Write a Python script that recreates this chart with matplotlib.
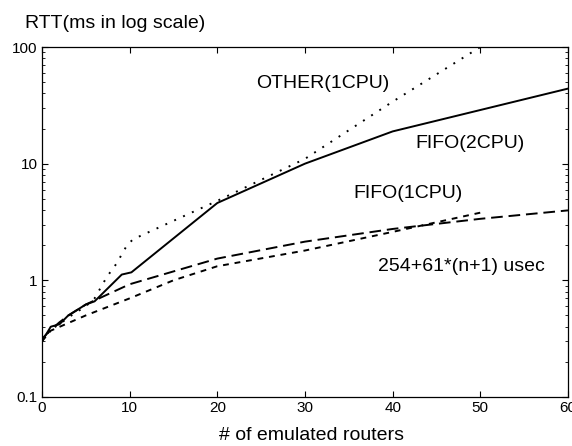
import matplotlib
matplotlib.use("Agg")
import matplotlib.pyplot as plt
from matplotlib.ticker import LogLocator, NullFormatter

plt.rcParams['font.family'] = ['Liberation Sans', 'DejaVu Sans']

# OTHER(1CPU) - dotted
other_x = [0, 1, 2, 3, 5, 6, 7.4, 8.5, 9.7, 10.4, 20, 30, 40, 50]
other_y = [0.30, 0.38, 0.42, 0.48, 0.60, 0.70, 1.07, 1.39, 2.0, 2.25, 4.8, 11, 34, 100]

# FIFO(2CPU) - solid
fifo2_x = [0, 1, 2, 3, 5, 6, 9.1, 10.2, 20, 30, 40, 60]
fifo2_y = [0.30, 0.40, 0.42, 0.50, 0.62, 0.66, 1.12, 1.17, 4.6, 10, 18.9, 44]

# FIFO(1CPU) - short dashes
fifo1_x = [0, 1, 5, 10, 15, 20, 30, 40, 50]
fifo1_y = [0.30, 0.37, 0.50, 0.70, 1.0, 1.32, 1.8, 2.6, 3.8]

# 254+61*(n+1) usec - long dashes
model_x = [0, 1, 2, 3, 5, 10, 20, 30, 40, 50, 60]
model_y = [0.315, 0.376, 0.437, 0.498, 0.62, 0.925, 1.535, 2.145, 2.755, 3.365, 3.975]

fig = plt.figure(figsize=(5.72, 4.46), dpi=100)
ax = fig.add_axes([0.0734, 0.11, 0.9196, 0.7846])

lw = 1.4
ax.plot(other_x, other_y, color='black', lw=lw, linestyle=(0, (1, 4)))
ax.plot(fifo2_x, fifo2_y, color='black', lw=lw, linestyle='-')
ax.plot(fifo1_x, fifo1_y, color='black', lw=lw, linestyle=(0, (3, 3)))
ax.plot(model_x, model_y, color='black', lw=lw, linestyle=(0, (6, 3)))

ax.set_yscale('log')
ax.set_xlim(0, 60)
ax.set_ylim(0.1, 100)
ax.set_xticks([0, 10, 20, 30, 40, 50, 60])
ax.set_yticks([0.1, 1, 10, 100])
ax.set_yticklabels(['0.1', '1', '10', '100'])
ax.yaxis.set_minor_locator(LogLocator(base=10, subs=range(2, 10)))
ax.yaxis.set_minor_formatter(NullFormatter())
ax.tick_params(which='both', direction='in', top=True, right=True, labelsize=11)
ax.tick_params(which='major', length=4, width=0.8, pad=3)
ax.tick_params(which='minor', length=2, width=0.6)
for s in ax.spines.values():
    s.set_linewidth(0.9)

ax.text(32.0, 48.8, 'OTHER(1CPU)', fontsize=14, ha='center', va='center')
ax.text(48.8, 14.9, 'FIFO(2CPU)', fontsize=14, ha='center', va='center')
ax.text(41.8, 5.56, 'FIFO(1CPU)', fontsize=14, ha='center', va='center')
ax.text(47.8, 1.32, '254+61*(n+1) usec', fontsize=14, ha='center', va='center')

fig.text(25/572, 1 - 23/446, 'RTT(ms in log scale)', fontsize=14, ha='left', va='center')
fig.text(311.5/572, 1 - 435/446, '# of emulated routers', fontsize=14, ha='center', va='center')

fig.savefig('out.png', dpi=100)
